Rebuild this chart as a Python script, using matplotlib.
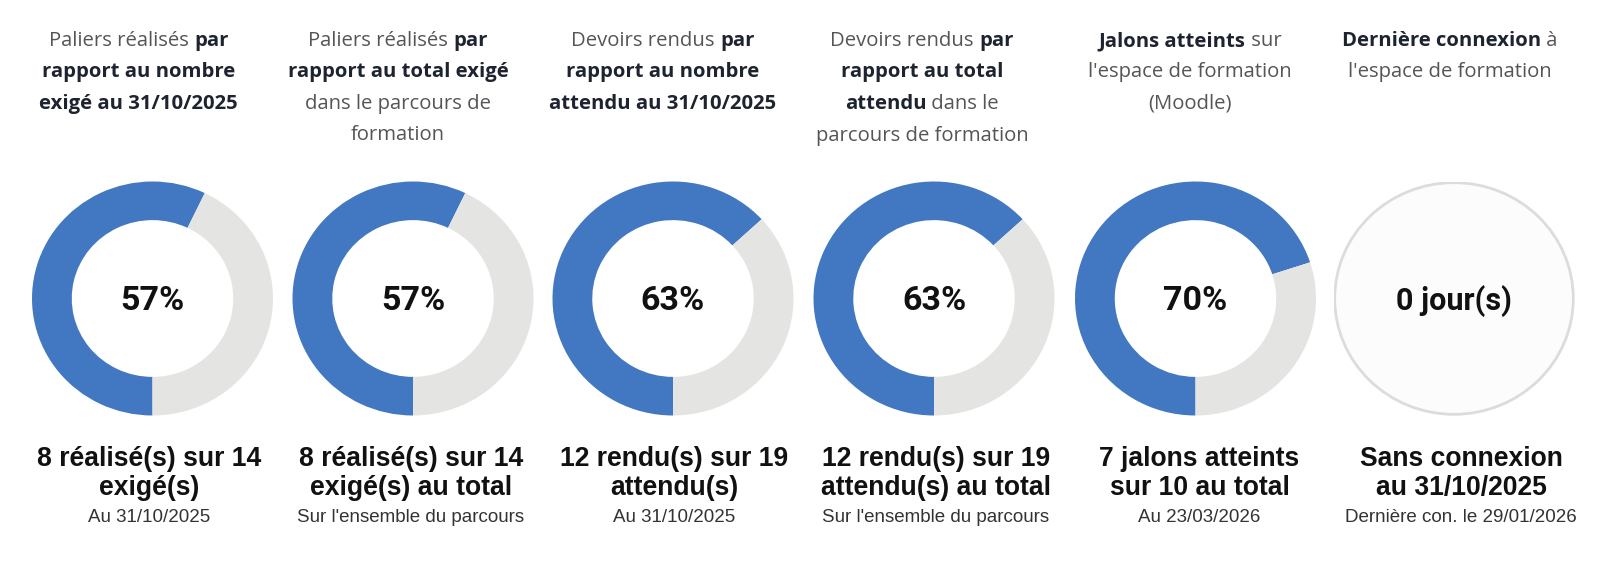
import matplotlib
matplotlib.use('Agg')
import matplotlib.pyplot as plt
from matplotlib.offsetbox import TextArea, HPacker, AnnotationBbox
from matplotlib.patches import Circle

# data
done = [8, 8, 12, 12, 7]
total = [14, 14, 19, 19, 10]
days_label = '0 jour(s)'

# header lines: list of (text, bold) segments per line
headers = [
    [[('Paliers réalisés ', 0), ('par', 1)], [('rapport au nombre', 1)], [('exigé au 31/10/2025', 1)]],
    [[('Paliers réalisés ', 0), ('par', 1)], [('rapport au total exigé', 1)],
     [('dans le parcours de', 0)], [('formation', 0)]],
    [[('Devoirs rendus ', 0), ('par', 1)], [('rapport au nombre', 1)], [('attendu au 31/10/2025', 1)]],
    [[('Devoirs rendus ', 0), ('par', 1)], [('rapport au total', 1)],
     [('attendu', 1), (' dans le', 0)], [('parcours de formation', 0)]],
    [[('Jalons atteints', 1), (' sur', 0)], [("l'espace de formation", 0)], [('(Moodle)', 0)]],
    [[('Dernière connexion', 1), (' à', 0)], [("l'espace de formation", 0)]],
]
main_labels = [
    ['8 réalisé(s) sur 14', 'exigé(s)'],
    ['8 réalisé(s) sur 14', 'exigé(s) au total'],
    ['12 rendu(s) sur 19', 'attendu(s)'],
    ['12 rendu(s) sur 19', 'attendu(s) au total'],
    ['7 jalons atteints', 'sur 10 au total'],
    ['Sans connexion', 'au 31/10/2025'],
]
sub_labels = ['Au 31/10/2025', "Sur l'ensemble du parcours", 'Au 31/10/2025',
              "Sur l'ensemble du parcours", 'Au 23/03/2026', 'Dernière con. le 29/01/2026']

# layout (pixels)
W, H = 1600, 564
head_x = [138.5, 398, 663, 922, 1190, 1450]
donut_x = [152.5, 413, 673, 934, 1195.5, 1454]
foot_x = [149, 410.7, 674.3, 935.7, 1199.5, 1461.3]
donut_y = 298.5
rx, ry = 120.5, 117
blue = '#4277c1'
grey = '#e4e4e2'

fig = plt.figure(figsize=(16, 5.64), dpi=100)
bg = fig.add_axes([0, 0, 1, 1])
bg.set_xlim(0, W)
bg.set_ylim(H, 0)
bg.axis('off')

# headers
for x, lines in zip(head_x, headers):
    for i, line in enumerate(lines):
        parts = [TextArea(t, textprops=dict(fontsize=14.6, family='Open Sans',
                                            fontweight='bold' if b else 'normal',
                                            color='#1e2330' if b else '#555555'))
                 for t, b in line]
        box = HPacker(children=parts, align='baseline', pad=0, sep=0)
        ab = AnnotationBbox(box, (x, 41 + 31.5 * i), xycoords='data', frameon=False,
                            box_alignment=(0.5, 0.5), pad=0)
        bg.add_artist(ab)

# donuts
for k in range(6):
    ax = fig.add_axes([(donut_x[k] - rx) / W, 1 - (donut_y + ry) / H, 2 * rx / W, 2 * ry / H])
    if k < len(done):
        ax.pie([done[k], total[k] - done[k]], colors=[blue, grey], startangle=-90,
               counterclock=False, radius=1, wedgeprops=dict(width=0.33, linewidth=0))
        label = f'{round(100 * done[k] / total[k])}%'
        fs = 24.5
    else:
        ax.add_patch(Circle((0, 0), 0.99, facecolor='#fcfcfc', edgecolor='#dcdcdc', linewidth=2))
        label = days_label
        fs = 22
    ax.set_aspect('auto')
    ax.set_xlim(-1, 1)
    ax.set_ylim(-1, 1)
    ax.axis('off')
    ax.text(0, -0.02, label, ha='center', va='center', fontsize=fs, family='Roboto',
            fontweight='bold', color='#111111')

# footers
for x, lines, sub in zip(foot_x, main_labels, sub_labels):
    for i, line in enumerate(lines):
        bg.text(x, 459 + 29 * i, line, ha='center', va='center', fontsize=19.1,
                family='Liberation Sans', fontweight='bold', color='#111111')
    bg.text(x, 517, sub, ha='center', va='center', fontsize=13.5,
            family='Liberation Sans', color='#333333')

fig.savefig('out.png', dpi=100, facecolor='white')
